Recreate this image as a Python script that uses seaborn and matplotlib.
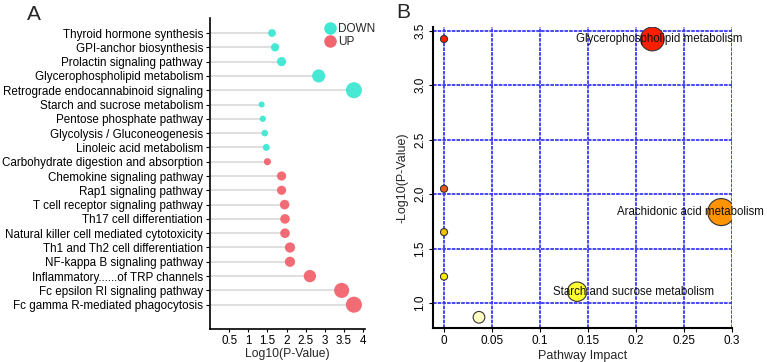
import numpy as np
import pandas as pd
import seaborn as sns
import matplotlib.pyplot as plt
from matplotlib.colors import LinearSegmentedColormap
from matplotlib.lines import Line2D

# ---- panel A data: enriched KEGG pathways ----
pathways = [
    "Thyroid hormone synthesis",
    "GPI-anchor biosynthesis",
    "Prolactin signaling pathway",
    "Glycerophospholipid metabolism",
    "Retrograde endocannabinoid signaling",
    "Starch and sucrose metabolism",
    "Pentose phosphate pathway",
    "Glycolysis / Gluconeogenesis",
    "Linoleic acid metabolism",
    "Carbohydrate digestion and absorption",
    "Chemokine signaling pathway",
    "Rap1 signaling pathway",
    "T cell receptor signaling pathway",
    "Th17 cell differentiation",
    "Natural killer cell mediated cytotoxicity",
    "Th1 and Th2 cell differentiation",
    "NF-kappa B signaling pathway",
    "Inflammatory......of TRP channels",
    "Fc epsilon RI signaling pathway",
    "Fc gamma R-mediated phagocytosis",
]
log_p = [1.62, 1.70, 1.87, 2.84, 3.76, 1.35, 1.38, 1.43, 1.47, 1.50,
         1.87, 1.87, 1.95, 1.96, 1.96, 2.09, 2.09, 2.61, 3.44, 3.76]
regulation = ["DOWN"] * 9 + ["UP"] * 11

# ---- panel B data: pathway impact ----
impact = [0.0, 0.2174, 0.0, 0.2893, 0.0, 0.0, 0.1389, 0.0365]
neg_log_p = [3.424, 3.424, 2.049, 1.835, 1.651, 1.243, 1.104, 0.869]
b_names = ["", "Glycerophospholipid metabolism", "", "Arachidonic acid metabolism",
           "", "", "Starch and sucrose metabolism", ""]

df_a = pd.DataFrame({"pathway": pathways, "value": log_p, "group": regulation})
df_b = pd.DataFrame({"impact": impact, "p": neg_log_p, "name": b_names})

sns.set_style("white")
plt.rcParams["font.family"] = ["Liberation Sans", "DejaVu Sans"]
plt.rcParams["font.size"] = 8

fig = plt.figure(figsize=(7.67, 3.62), dpi=100)

# ================= panel A =================
ax1 = fig.add_axes([210 / 767, 1 - 329 / 362, 155 / 767, 311 / 362])
grp_colors = {"DOWN": "#3EE8D2", "UP": "#F2646E"}
ypos = np.arange(len(df_a))
ax1.hlines(ypos, 0, df_a["value"], color="#D6D6D6", lw=1.1, zorder=1)
sns.scatterplot(data=df_a, x="value", y="pathway", hue="group", palette=grp_colors,
                size="value", sizes=(19, 133), size_norm=(1.35, 3.76),
                linewidth=0, alpha=0.95, legend=False, ax=ax1, zorder=3)
ax1.set_xlim(0, 4.05)
ax1.set_ylim(20.7, -1.05)
ax1.set_xticks([0.5, 1, 1.5, 2, 2.5, 3, 3.5, 4])
ax1.set_xticklabels(["0.5", "1", "1.5", "2", "2.5", "3", "3.5", "4"])
ax1.set_xlabel("Log10(P-Value)", fontsize=8.7, labelpad=1)
ax1.set_ylabel("")
ax1.tick_params(axis="both", length=3, width=0.8, pad=2, labelsize=8.4, direction="out",
                bottom=True, left=True, colors="black")
ax1.tick_params(axis="x", length=2)
for s in ["top", "right"]:
    ax1.spines[s].set_visible(False)
for s in ["left", "bottom"]:
    ax1.spines[s].set_color("black")
    ax1.spines[s].set_linewidth(1.2)
handles = [Line2D([], [], marker="o", ls="", markersize=9, markerfacecolor=grp_colors[g],
                  markeredgewidth=0, label=g) for g in ["DOWN", "UP"]]
ax1.legend(handles=handles, loc="upper right", bbox_to_anchor=(1.12, 1.01), frameon=False,
           fontsize=8.5, handletextpad=0.0, labelspacing=0.05, borderpad=0.2,
           handlelength=1.4)
fig.text(27 / 767, 1 - 5 / 362, "A", fontsize=15, va="top", ha="left")

# ================= panel B =================
ax2 = fig.add_axes([433 / 767, 1 - 328.3 / 362, 299 / 767, 301.6 / 362])
stops = [(0.85, "#FFFFC8"), (1.10, "#FFFF33"), (1.24, "#FFEE00"), (1.65, "#F5C000"),
         (1.83, "#FF9400"), (2.05, "#EE5A18"), (3.42, "#FF1E00"), (3.45, "#FF1E00")]
lo, hi = stops[0][0], stops[-1][0]
heat = LinearSegmentedColormap.from_list(
    "heat", [((v - lo) / (hi - lo), c) for v, c in stops])
sns.scatterplot(data=df_b, x="impact", y="p", hue="p", palette=heat, hue_norm=(lo, hi),
                size="impact", sizes=(26, 378), size_norm=(0, 0.2893),
                edgecolor="#333333", linewidth=0.8, legend=False, ax=ax2, zorder=3)
label_x = {"Glycerophospholipid metabolism": 0.225,
           "Arachidonic acid metabolism": 0.257,
           "Starch and sucrose metabolism": 0.198}
for _, r in df_b[df_b["name"] != ""].iterrows():
    ax2.text(label_x[r["name"]], r["p"], r["name"], ha="center", va="center",
             fontsize=8.3, color="#111111", zorder=5)
ax2.set_xlim(-0.0115, 0.3005)
ax2.set_ylim(0.768, 3.537)
ax2.set_xticks([0, 0.05, 0.1, 0.15, 0.2, 0.25, 0.3])
ax2.set_xticklabels(["0", "0.05", "0.1", "0.15", "0.2", "0.25", "0.3"])
ax2.set_yticks([1.0, 1.5, 2.0, 2.5, 3.0, 3.5])
ax2.set_yticklabels(["1.0", "1.5", "2.0", "2.5", "3.0", "3.5"], rotation=90, va="center")
ax2.grid(True, color="#3A3AF5", lw=1.3, ls=(0, (2, 0.6)), zorder=0)
ax2.set_axisbelow(True)
ax2.set_xlabel("Pathway Impact", fontsize=9, labelpad=2)
ax2.set_ylabel("-Log10(P-Value)", fontsize=9, labelpad=4)
ax2.tick_params(axis="both", length=3, width=0.8, pad=2, labelsize=8.5, direction="out",
                bottom=True, left=True, colors="black")
for s in ["top", "right"]:
    ax2.spines[s].set_visible(False)
for s in ["left", "bottom"]:
    ax2.spines[s].set_color("black")
    ax2.spines[s].set_linewidth(1.5)
fig.text(396 / 767, 1 - 3 / 362, "B", fontsize=15, va="top", ha="left")

fig.savefig("out.png", dpi=100)
